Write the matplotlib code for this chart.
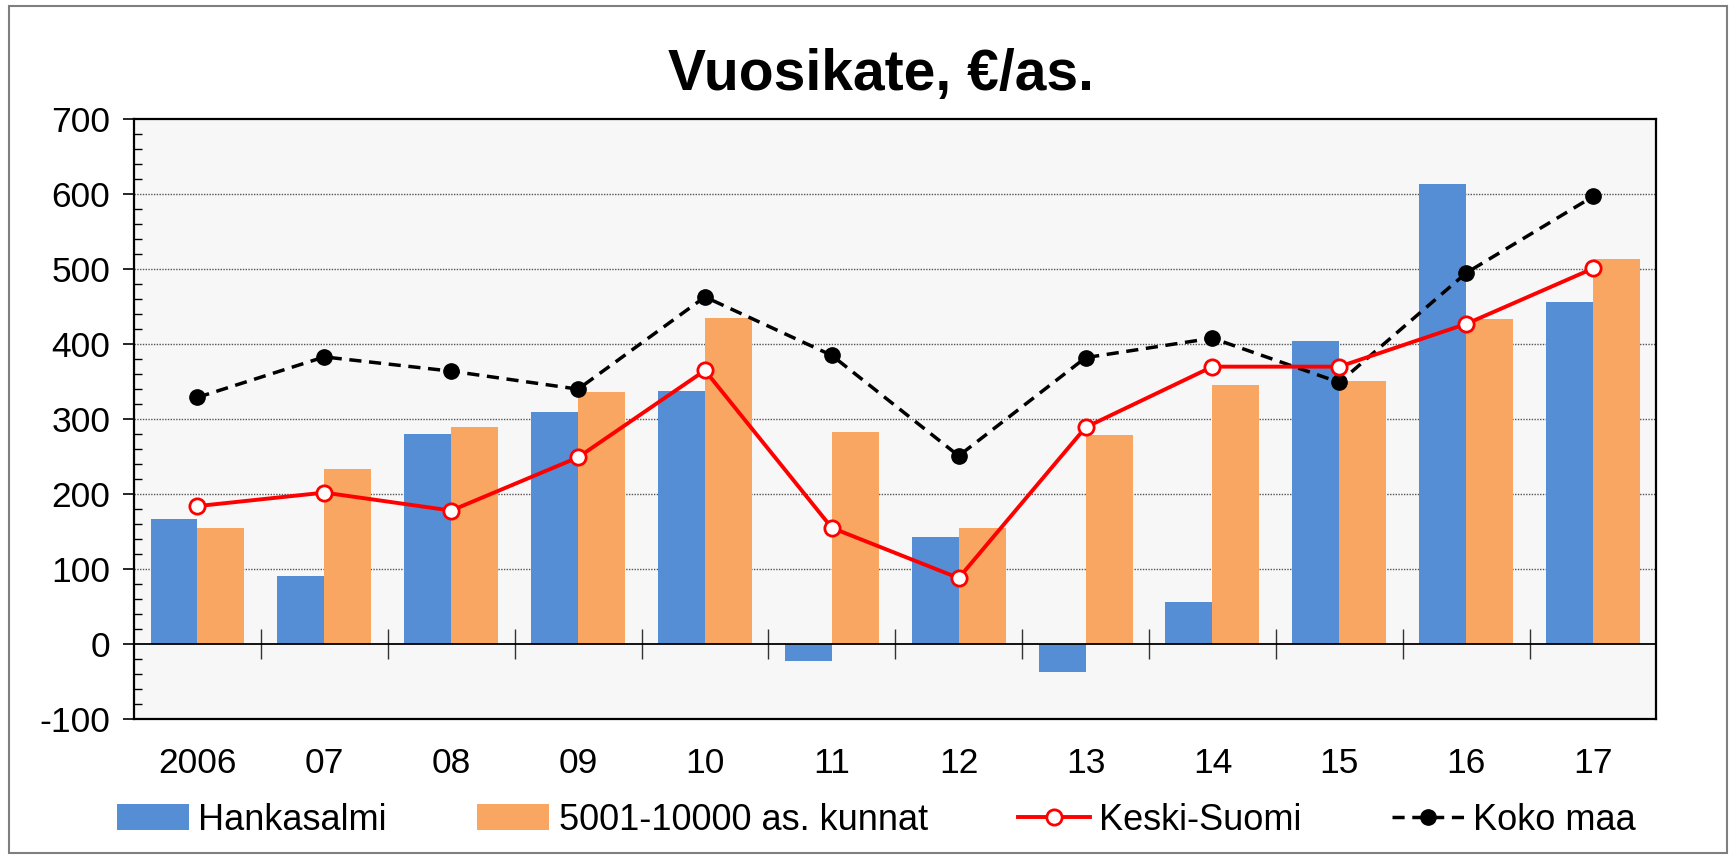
import numpy as np
import matplotlib
matplotlib.use("Agg")
import matplotlib.pyplot as plt
from matplotlib.patches import Rectangle
from matplotlib.ticker import MultipleLocator, FixedLocator, NullFormatter

years = ["2006", "07", "08", "09", "10", "11", "12", "13", "14", "15", "16", "17"]
hankasalmi = [167, 91, 280, 309, 337, -22, 143, -37, 56, 404, 614, 456]
kunnat = [155, 234, 289, 336, 435, 283, 155, 279, 346, 351, 433, 514]
keski_suomi = [184, 202, 178, 249, 365, 155, 88, 289, 370, 370, 427, 501]
koko_maa = [329, 383, 364, 340, 463, 385, 251, 382, 408, 349, 495, 597]

plt.rcParams['font.family'] = ['Liberation Sans', 'DejaVu Sans']
plt.rcParams['axes.unicode_minus'] = False

fig = plt.figure(figsize=(17.34, 8.58), dpi=100)
ax = fig.add_axes([0.0773, 0.162, 0.878, 0.699])
ax.set_facecolor("#F7F7F7")

x = np.arange(len(years))
w = 0.37
b1 = ax.bar(x - w / 2, hankasalmi, w, color="#558ED5", label="Hankasalmi", zorder=2)
b2 = ax.bar(x + w / 2, kunnat, w, color="#F8A662", label="5001-10000 as. kunnat", zorder=2)
l1, = ax.plot(x, keski_suomi, color="red", lw=2.8, marker="o", ms=11, mfc="white",
              mec="red", mew=2.0, label="Keski-Suomi", zorder=4)
l2, = ax.plot(x, koko_maa, color="black", lw=2.5, ls=(0, (3.5, 2.2)), marker="o", ms=11,
              mfc="black", mec="black", label="Koko maa", zorder=3)

ax.set_xlim(-0.5, len(years) - 0.5)
ax.set_ylim(-100, 700)
ax.yaxis.set_major_locator(MultipleLocator(100))
ax.yaxis.set_minor_locator(MultipleLocator(20))
ax.tick_params(axis="y", which="major", direction="out", length=8, width=1.2,
               labelsize=25.5, pad=9)
ax.tick_params(axis="y", which="minor", direction="in", length=6, width=1.0)
ax.set_xticks(x)
ax.set_xticklabels(years)
ax.tick_params(axis="x", which="major", length=0, labelsize=25.5, pad=20)

for v in range(100, 700, 100):
    ax.axhline(v, color="#555555", lw=1.0, ls=(0, (1, 1)), zorder=1)
ax.axhline(0, color="black", lw=1.3, zorder=3)

sec = ax.secondary_xaxis(location=0.125)
sec.spines["bottom"].set_visible(False)
sec.xaxis.set_major_locator(FixedLocator(x[:-1] + 0.5))
sec.xaxis.set_major_formatter(NullFormatter())
sec.tick_params(axis="x", direction="inout", length=22, width=1.0, color="#333333")

for s in ax.spines.values():
    s.set_linewidth(1.6)
    s.set_color("black")

fig.text(0.508, 0.913, "Vuosikate, €/as.", ha="center", va="center",
         fontsize=41, fontweight="bold")

fig.legend([b1, b2, l1, l2], ["Hankasalmi", "5001-10000 as. kunnat", "Keski-Suomi", "Koko maa"],
           loc="center", bbox_to_anchor=(0.5055, 0.044), ncol=4, frameon=False,
           fontsize=26, handlelength=2.0, handletextpad=0.25, columnspacing=2.5,
           numpoints=1)

fig.add_artist(Rectangle((0.005, 0.006), 0.991, 0.987, transform=fig.transFigure,
                         fill=False, edgecolor="#7F7F7F", lw=1.5))

fig.savefig("out.png", dpi=100)
